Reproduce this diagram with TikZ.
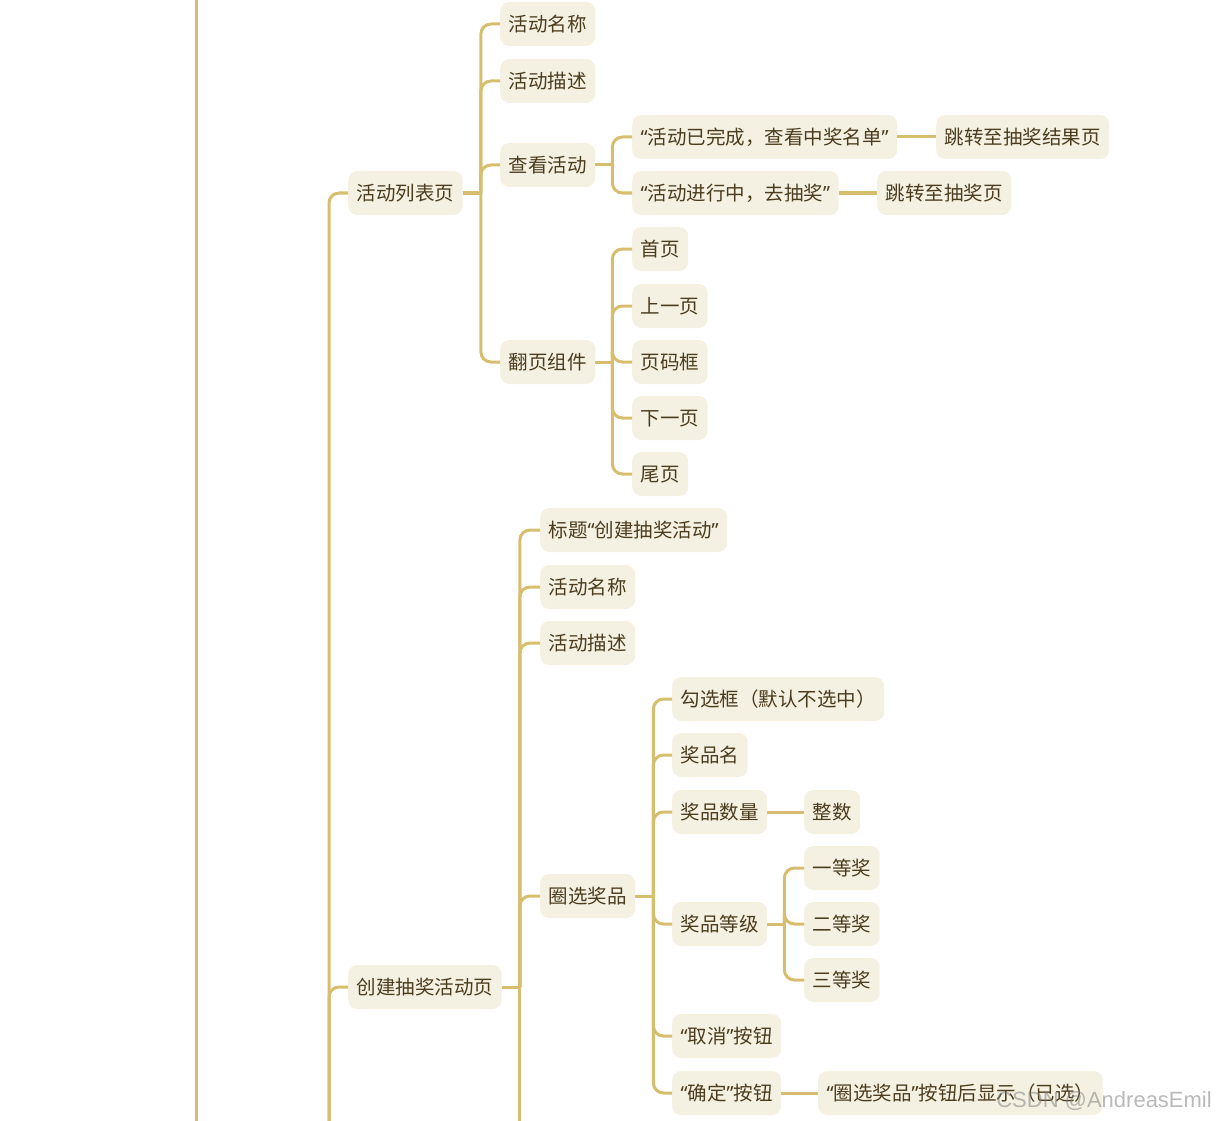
\documentclass[tikz,border=0pt]{standalone}
\usepackage{fontspec}
\newfontfamily\cjk{Noto Sans CJK SC}
\newfontfamily\latq{Noto Sans}
\newfontfamily\wmfont{Liberation Sans}
\newcommand{\qo}{{\latq “}}
\newcommand{\qc}{{\latq ”}}
\definecolor{boxfill}{HTML}{F5F1E2}
\definecolor{linec}{HTML}{D6BE6E}
\definecolor{txtc}{HTML}{4B3C1E}
\tikzset{
  mbox/.style={fill=boxfill, text=txtc, rounded corners=9pt, inner xsep=8.5pt, inner ysep=0pt,
    minimum height=44pt, anchor=west, text height=17pt, text depth=2.5pt,
    font=\cjk\fontsize{19.5}{23}\selectfont},
  conn/.style={draw=linec, line width=3pt},
  elbow/.style={conn, rounded corners=10pt}
}
\begin{document}
\begin{tikzpicture}[x=1pt,y=-1pt]
\useasboundingbox (0,0) rectangle (1216,1121);
\clip (0,0) rectangle (1216,1121);
% nodes
\node[mbox] (A) at (348,193) {活动列表页};
\node[mbox] (B) at (348,987) {创建抽奖活动页};
\node[mbox] (A1) at (500,24) {活动名称};
\node[mbox] (A2) at (500,81) {活动描述};
\node[mbox] (A3) at (500,165) {查看活动};
\node[mbox] (A4) at (500,362) {翻页组件};
\node[mbox] (A31) at (632,137) {\qo 活动已完成，查看中奖名单\qc};
\node[mbox] (A311) at (936,137) {跳转至抽奖结果页};
\node[mbox] (A32) at (632,193) {\qo 活动进行中，去抽奖\qc};
\node[mbox] (A321) at (877,193) {跳转至抽奖页};
\node[mbox] (A41) at (632,249) {首页};
\node[mbox] (A42) at (632,306) {上一页};
\node[mbox] (A43) at (632,362) {页码框};
\node[mbox] (A44) at (632,418) {下一页};
\node[mbox] (A45) at (632,474) {尾页};
\node[mbox] (B1) at (540,530) {标题\qo 创建抽奖活动\qc};
\node[mbox] (B2) at (540,587) {活动名称};
\node[mbox] (B3) at (540,643) {活动描述};
\node[mbox] (B4) at (540,896) {圈选奖品};
\node[mbox] (B41) at (672,699) {勾选框（默认不选中）};
\node[mbox] (B42) at (672,755) {奖品名};
\node[mbox] (B43) at (672,812) {奖品数量};
\node[mbox] (B431) at (804,812) {整数};
\node[mbox] (B44) at (672,924) {奖品等级};
\node[mbox] (B441) at (804,868) {一等奖};
\node[mbox] (B442) at (804,924) {二等奖};
\node[mbox] (B443) at (804,980) {三等奖};
\node[mbox] (B45) at (672,1036) {\qo 取消\qc 按钮};
\node[mbox] (B46) at (672,1093) {\qo 确定\qc 按钮};
\node[mbox] (B461) at (818,1093) {\qo 圈选奖品\qc 按钮后显示（已选）};
% junction coordinates
\coordinate (Aj) at ([xshift=18pt]A.east);
\coordinate (A3j) at ([xshift=17pt]A3.east);
\coordinate (A4j) at ([xshift=17pt]A4.east);
\coordinate (Bj) at ([xshift=18pt]B.east);
\coordinate (B4j) at ([xshift=18pt]B4.east);
\coordinate (B44j) at ([xshift=17pt]B44.east);
\coordinate (Rtop) at (196,0);
\coordinate (Rbot) at (196,1121);
\coordinate (Lbot) at (329,1121);
\coordinate (Bbot) at (Bj |- Lbot);
% connectors
\draw[conn] (Rtop) -- (Rbot);
\draw[elbow] (Lbot) |- (A.west);
\draw[elbow] (Lbot) |- (B.west);
\foreach \p/\c in {A/A1,A/A2,A/A3,A/A4,A3/A31,A3/A32,A4/A41,A4/A42,A4/A43,A4/A44,A4/A45,
  B/B1,B/B2,B/B3,B/B4,B4/B41,B4/B42,B4/B43,B4/B44,B4/B45,B4/B46,B44/B441,B44/B442,B44/B443}{
  \draw[conn] (\p.east) -- (\p j);
  \draw[elbow] (\p j) |- (\c.west);
}
\draw[conn] (Bj) -- (Bbot);
\draw[conn] (A31.east) -- (A311.west);
\draw[conn] (A32.east) -- (A321.west);
\draw[conn] (B43.east) -- (B431.west);
\draw[conn] (B46.east) -- (B461.west);
% watermark
\node[text=gray, opacity=0.55, font=\wmfont\fontsize{22}{25}\selectfont, anchor=east, inner sep=0pt] (wm) at (1212,1101) {CSDN @AndreasEmil};
\end{tikzpicture}
\end{document}
